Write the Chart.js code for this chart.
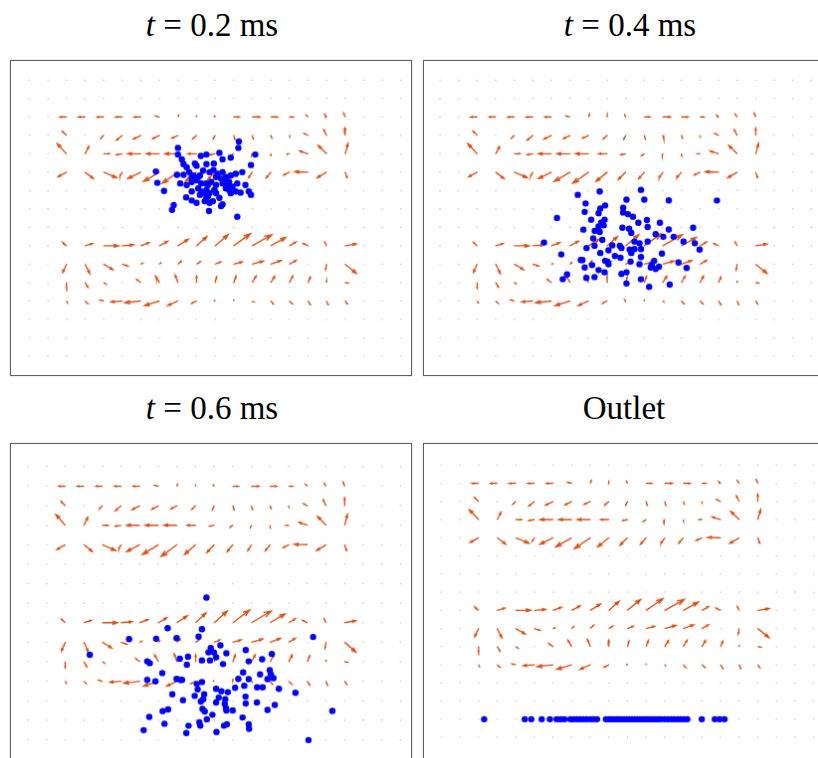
<!DOCTYPE html>
<html>
<head>
<meta charset="utf-8">
<script src="https://cdn.jsdelivr.net/npm/chart.js@4.4.1/dist/chart.umd.min.js"></script>
<style>
  html, body { margin: 0; padding: 0; width: 818px; height: 758px; overflow: hidden; background: #fff; }
  .panel { position: absolute; border: 1px solid #606060; box-shadow: 0 0 1px #999; }
  .title { position: absolute; width: 300px; text-align: center; font-family: "Liberation Serif", "Times New Roman", serif;
           font-size: 33px; line-height: 32px; color: #000; }
  .title i { font-style: italic; }
</style>
</head>
<body>
<div class="title" style="left:62px; top:9px;"><i>t</i> = 0.2 ms</div>
<div class="title" style="left:480px; top:9px;"><i>t</i> = 0.4 ms</div>
<div class="title" style="left:62px; top:392px;"><i>t</i> = 0.6 ms</div>
<div class="title" style="left:474px; top:392px;">Outlet</div>

<canvas id="p1" class="panel" style="left:10px; top:60px;"></canvas>
<canvas id="p2" class="panel" style="left:423px; top:60px;"></canvas>
<canvas id="p3" class="panel" style="left:10px; top:443px;"></canvas>
<canvas id="p4" class="panel" style="left:423px; top:443px;"></canvas>

<script>
// velocity field on a 21 x 17 grid (rows top to bottom), components in grid units, v positive = up
const fieldU = [
  [0,0,0,0,0,0,0,0,0,0,0,0,0,0,0,0,0,0,0,0,0],
  [0,0,0,0,0,0,0,0,0,0,0,0,0,0,0,0,0,0,0,0,0],
  [0,0,-0.35,-0.35,-0.35,-0.35,-0.35,-0.2,0.05,0,-0.05,0.3,0.4,0.35,0.2,-0.1,-0.1,-0.08,0,0,0],
  [0,0,-0.22,0,-0.15,-0.3,-0.4,-0.35,-0.32,-0.2,-0.1,0.06,0.05,0.05,0,-0.2,-0.15,0,0,0,0],
  [0,0,-0.5,0.2,0.3,-0.3,-0.7,-0.7,-0.7,-0.45,-0.25,-0.15,-0.05,0,-0.15,-0.45,-0.45,0.15,0,0,0],
  [0,0,-0.45,0.45,0.7,-0.12,-0.7,-0.85,-0.85,-0.6,-0.4,-0.3,-0.2,-0.25,-0.3,-0.7,-0.5,0.1,0,0,0],
  [0,0,0,0,0,0,0,0,0,0,0,0,0,0,0,0,0,0,0,0,0],
  [0,0,0,0,0,0,0,0,0,0,0,0,0,0,0,0,0,0,0,0,0],
  [0,0,0,0,0,0,0,0,0,0,0,0,0,0,0,0,0,0,0,0,0],
  [0,0,-0.2,0.4,0.8,0.6,0.45,0.45,0.55,0.55,0.7,0.9,1.05,0.8,0.35,-0.25,-0.1,0.6,0,0,0],
  [0,0,-0.2,0.25,0.5,0.3,0.1,0.1,0.17,0.2,0.3,0.45,0.6,0.55,0.35,0,-0.05,0.6,0,0,0],
  [0,0,0,0.15,0.12,0,-0.22,-0.2,-0.15,0,0.08,0.12,0.2,0.2,0.18,0.12,0,0.15,0,0,0],
  [0,0,0.05,0.12,-0.2,-0.6,-0.85,-0.8,-0.55,-0.25,-0.05,0,0.05,0.12,0.15,0.12,0.08,0.1,0,0,0],
  [0,0,0,0,0,0,0,0,0,0,0,0,0,0,0,0,0,0,0,0,0],
  [0,0,0,0,0,0,0,0,0,0,0,0,0,0,0,0,0,0,0,0,0],
  [0,0,0,0,0,0,0,0,0,0,0,0,0,0,0,0,0,0,0,0,0],
  [0,0,0,0,0,0,0,0,0,0,0,0,0,0,0,0,0,0,0,0,0]
];
const fieldV = [
  [0,0,0,0,0,0,0,0,0,0,0,0,0,0,0,0,0,0,0,0,0],
  [0,0,0,0,0,0,0,0,0,0,0,0,0,0,0,0,0,0,0,0,0],
  [0,0,0,0,0,0,0,0.05,0.15,0.1,0.1,0,0,0,0,0.1,0.15,0.2,0,0,0],
  [0,0,0.22,0,-0.15,-0.25,-0.2,-0.18,-0.15,-0.18,-0.2,-0.22,-0.2,-0.15,-0.05,0.1,0.3,0.4,0,0,0],
  [0,0,0.55,0.4,0,-0.05,0,0,0,0,-0.05,-0.1,-0.12,-0.1,0,0.15,0.45,0.55,0,0,0],
  [0,0,-0.25,-0.35,-0.3,-0.2,-0.35,-0.5,-0.6,-0.5,-0.4,-0.35,-0.3,-0.3,-0.15,0.02,-0.3,-0.3,0,0,0],
  [0,0,0,0,0,0,0,0,0,0,0,0,0,0,0,0,0,0,0,0,0],
  [0,0,0,0,0,0,0,0,0,0,0,0,0,0,0,0,0,0,0,0,0],
  [0,0,0,0,0,0,0,0,0,0,0,0,0,0,0,0,0,0,0,0,0],
  [0,0,0.18,0.12,0,0.05,0.17,0.25,0.35,0.5,0.6,0.65,0.6,0.45,0.2,0.12,0.2,0.1,0,0,0],
  [0,0,-0.45,-0.5,-0.3,-0.1,0.05,0.1,0.17,0.13,0.12,0.12,0.17,0.2,0.2,0,-0.3,-0.5,0,0,0],
  [0,0,-0.3,-0.25,-0.08,0,0.17,0.35,0.4,0.35,0.3,0.35,0.35,0.35,0.35,0.3,0.1,-0.03,0,0,0],
  [0,0,-0.1,-0.12,0.05,-0.05,-0.1,-0.25,-0.25,-0.12,0.05,0.08,-0.05,-0.15,-0.15,-0.2,-0.2,-0.15,0,0,0],
  [0,0,0,0,0,0,0,0,0,0,0,0,0,0,0,0,0,0,0,0,0],
  [0,0,0,0,0,0,0,0,0,0,0,0,0,0,0,0,0,0,0,0,0],
  [0,0,0,0,0,0,0,0,0,0,0,0,0,0,0,0,0,0,0,0,0],
  [0,0,0,0,0,0,0,0,0,0,0,0,0,0,0,0,0,0,0,0,0]
];

// particle positions (grid units: column, row)
const t02x = [11.28,11.25,8.0,8.0,12.16,10.23,9.53,9.23,8.21,8.30,8.91,9.0,9.53,9.93,10.40,10.84,11.93,6.81,7.95,8.30,
  8.61,8.82,9.09,9.35,9.70,9.91,10.14,10.40,10.58,10.84,11.11,6.89,8.12,8.47,8.74,9.0,9.26,9.61,10.05,10.40,
  10.75,10.93,11.19,11.63,7.25,8.74,9.09,9.26,9.53,9.70,9.96,10.58,10.75,11.11,11.37,11.81,11.93,8.44,8.74,9.18,
  9.44,9.61,9.70,9.88,10.23,10.40,7.77,7.68,9.67,10.32,11.19,9.53,9.79,10.05,10.32,10.49,10.67,9.18,11.46,8.47,
  9.35,10.05,8.74,10.84,9.0,9.53];
const t02y = [3.33,3.68,3.68,4.04,4.04,3.95,4.04,4.12,4.30,4.56,4.53,4.65,4.56,4.53,4.30,4.21,4.61,4.96,5.14,5.14,
  5.0,5.18,5.26,4.91,5.0,4.88,5.09,5.0,5.26,5.18,5.09,5.58,5.61,5.70,5.53,5.44,5.61,5.70,5.70,5.61,
  5.53,5.79,5.61,5.70,6.02,6.05,5.88,6.05,5.96,6.14,5.96,5.88,5.96,6.05,6.11,6.05,6.23,6.37,6.54,6.23,
  6.58,6.32,6.67,6.58,6.40,6.75,6.79,7.05,7.11,6.84,7.42,5.61,5.53,5.26,5.35,5.47,5.70,5.18,5.0,4.74,
  6.14,6.14,5.26,6.14,6.67,6.40];

const t04x = [10.82,8.60,7.42,14.91,12.32,11.0,10.04,7.84,8.89,8.63,9.86,7.79,8.54,9.86,10.12,10.39,6.30,8.86,8.14,11.14,
  10.68,8.68,11.84,8.54,8.81,9.82,10.18,12.32,13.63,7.72,8.33,8.60,11.18,11.61,10.30,8.25,8.74,12.02,12.58,13.11,
  13.72,5.60,9.28,9.68,10.47,10.74,11.18,7.89,8.32,9.07,9.77,10.21,10.82,13.98,11.95,8.63,10.30,6.53,7.58,7.67,
  9.02,9.72,10.26,10.82,11.53,12.84,7.79,8.19,9.07,10.74,11.35,11.61,11.79,11.40,13.28,6.84,6.61,7.88,8.32,8.86,
  8.54,9.77,10.04,10.04,10.82,11.26,12.37,9.42,8.89,10.47];
const t04y = [5.96,6.05,6.23,6.54,6.53,6.49,6.49,6.70,6.81,6.98,6.93,7.16,7.23,7.19,7.28,7.42,7.49,7.58,7.58,7.60,
  7.75,7.75,7.75,7.95,7.89,8.02,8.07,8.11,8.02,8.12,8.19,8.25,7.98,8.37,8.30,8.60,8.68,8.51,8.51,8.77,
  8.86,8.82,8.98,9.0,8.77,8.86,8.77,9.12,9.0,9.25,9.12,9.21,9.18,9.21,9.42,9.39,9.39,9.47,9.77,9.77,
  9.86,9.65,9.86,9.61,9.82,9.91,10.18,10.05,10.0,10.0,10.18,10.26,10.14,10.05,10.21,10.56,10.82,10.75,10.70,10.44,
  10.32,10.53,10.44,11.05,10.82,11.23,11.11,9.56,9.82,9.18];

const t06x = [9.58,7.50,9.34,5.43,6.88,7.98,9.16,15.31,3.32,9.81,9.98,9.69,10.33,10.10,10.65,11.69,13.09,6.40,6.54,8.15,
  8.59,8.53,9.34,9.77,10.47,11.85,12.57,7.21,6.40,6.84,7.98,8.19,8.27,9.06,9.34,11.29,11.55,11.85,12.46,12.86,
  12.98,13.04,13.18,7.75,8.32,8.95,9.46,9.41,9.28,10.10,10.38,10.73,10.10,10.56,10.63,11.12,11.61,11.68,12.30,12.60,
  13.47,14.36,11.69,12.29,13.25,7.23,7.52,9.37,9.49,9.90,10.65,10.99,11.52,12.86,6.51,9.60,7.33,6.21,8.62,9.20,
  9.25,10.52,10.68,11.85,11.87,8.50,10.12,15.06,16.34,9.11,10.59,10.24];
const t06y = [7.71,9.28,9.33,9.84,9.82,9.79,9.71,9.73,10.64,10.30,10.52,10.52,10.16,10.77,10.57,10.40,10.60,10.98,11.07,10.85,
  10.74,11.15,10.93,10.93,11.12,10.98,10.87,11.58,11.93,12.01,11.88,11.93,11.93,12.14,12.04,11.88,11.55,11.89,11.65,11.89,
  11.43,11.65,11.84,12.67,12.97,12.75,12.67,12.92,13.04,12.39,12.51,12.56,13.09,13.17,13.38,12.34,12.23,12.79,12.31,12.31,
  12.39,12.59,13.14,13.09,13.22,13.53,13.45,13.42,13.55,13.72,13.50,13.50,13.86,13.47,13.83,13.95,14.18,14.51,14.28,14.11,
  14.28,14.28,14.21,14.21,14.44,14.66,14.61,15.02,13.52,12.42,12.92,12.84];

// particles collected at the outlet plane (row 15)
const outletX = [2.30,4.48,4.83,5.39,5.83,6.19,6.40,6.61,6.93,7.10,7.28,7.45,7.62,7.80,8.01,8.18,8.36,
  8.84,8.99,9.12,9.27,9.41,9.54,9.68,9.82,9.96,10.10,10.24,10.38,10.52,10.66,10.80,10.94,11.08,11.22,11.36,
  11.50,11.64,11.78,11.99,12.16,12.34,12.51,12.69,12.86,13.04,13.21,13.99,14.69,14.95,15.21];
const outletRow = 15;

function quiverPoints(U, V) {
  const pts = [];
  const a = 0.33, b = 0.33; // head size like matlab quiver
  for (let r = 0; r < U.length; r++) {
    for (let c = 0; c < U[r].length; c++) {
      const u = U[r][c], v = V[r][c];
      if (!u && !v) continue;
      const dx = u, dy = -v; // rows grow downward
      const x1 = c + dx, y1 = r + dy;
      pts.push({x: c, y: r}, {x: x1, y: y1}, {x: null, y: null});
      pts.push({x: x1 - a * (dx + b * dy), y: y1 - a * (dy - b * dx)}, {x: x1, y: y1},
               {x: x1 - a * (dx - b * dy), y: y1 - a * (dy + b * dx)}, {x: null, y: null});
    }
  }
  return pts;
}

function gridPoints() {
  const pts = [];
  for (let r = 0; r < fieldU.length; r++)
    for (let c = 0; c < fieldU[0].length; c++) pts.push({x: c, y: r});
  return pts;
}

function toPoints(xs, ys) {
  return xs.map((x, i) => ({x: x, y: ys[i]}));
}

const arrows = quiverPoints(fieldU, fieldV);
const dots = gridPoints();

function drawPanel(id, w, h, xr, yr, particles) {
  const cv = document.getElementById(id);
  cv.width = w; cv.height = h;
  cv.style.width = w + 'px'; cv.style.height = h + 'px';
  new Chart(cv, {
    type: 'scatter',
    data: {
      datasets: [
        {
          data: particles,
          pointRadius: 3.2,
          backgroundColor: '#0000ff',
          borderColor: '#0000ff',
          borderWidth: 0,
          order: 0
        },
        {
          data: arrows,
          showLine: true,
          spanGaps: false,
          pointRadius: 0,
          borderColor: '#d95319',
          borderWidth: 1.4,
          order: 1
        },
        {
          data: dots,
          pointRadius: 0.8,
          backgroundColor: 'rgba(190,150,135,0.55)',
          borderWidth: 0,
          clip: 0,
          order: 2
        }
      ]
    },
    options: {
      responsive: false,
      animation: false,
      events: [],
      layout: { padding: 0 },
      plugins: { legend: { display: false }, tooltip: { enabled: false } },
      scales: {
        x: { type: 'linear', display: false, min: xr[0], max: xr[1] },
        y: { type: 'linear', display: false, reverse: true, min: yr[0], max: yr[1] }
      }
    }
  });
}

drawPanel('p1', 402, 316, [-0.772, 20.33], [-0.826, 15.81], toPoints(t02x, t02y));
drawPanel('p2', 396, 316, [-0.646, 20.14], [-0.826, 15.81], toPoints(t04x, t04y));
drawPanel('p3', 402, 336, [-0.696, 20.35], [0.04, 16.76], toPoints(t06x, t06y));
drawPanel('p4', 396, 336, [-0.717, 20.02], [0.053, 18.02], outletX.map(x => ({x: x, y: outletRow})));
</script>
</body>
</html>
